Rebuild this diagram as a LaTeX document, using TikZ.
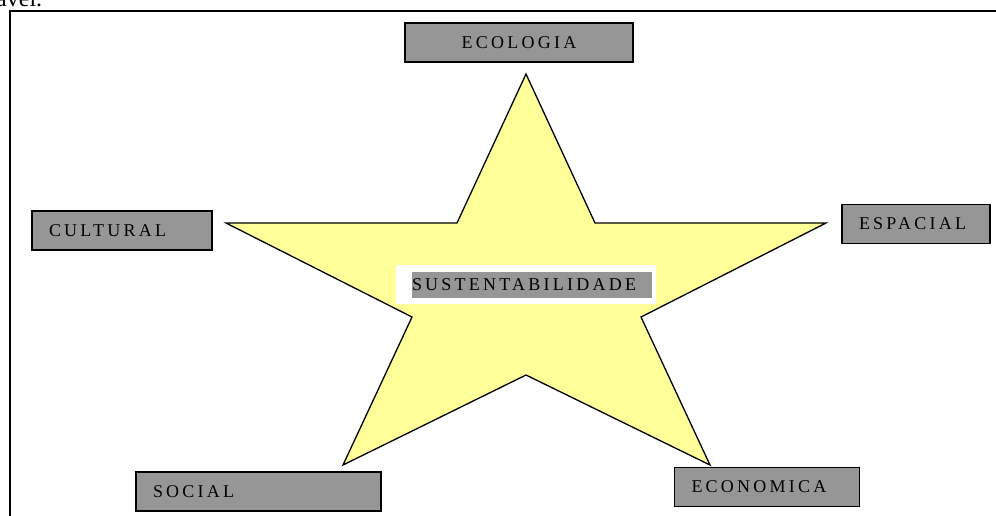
\documentclass[tikz,border=0pt]{standalone}
\usepackage{fontspec}
\setmainfont{Liberation Serif}
\newfontfamily\spaced[LetterSpace=18]{Liberation Serif}
\usetikzlibrary{positioning}
\definecolor{boxgray}{RGB}{150,150,150}
\definecolor{staryellow}{RGB}{255,255,153}
\tikzset{
  dim/.style={
      font=\spaced\fontsize{18}{21}\selectfont,
      text height=11.9pt,
      text depth=0pt
    },
  dimbox/.style={
      dim,
      rectangle,
      draw,
      line width=1.3pt,
      fill=boxgray,
      minimum height=39pt,
      inner ysep=0pt
    },
  leftbox/.style={
      dimbox,
      align=left,
      inner xsep=17pt,
      text width=#1
    },
  estrela/.style={
      draw,
      line width=1.3pt,
      fill=staryellow,
      line join=miter
    }
}

\begin{document}
\begin{tikzpicture}[x=1pt, y=-1pt]
  \clip (0,0) rectangle (996,515);
  % frame of the page
  \draw[line width=2pt] (10,530) -- (10,11) -- (1010,11);
  \node[anchor=base west, font=\fontsize{24}{28}\selectfont, inner sep=0pt] (frag) at (-4,6) {ável.};
  % star
  \draw[estrela] (526,74) -- (595,223) -- (826,223) -- (641,317) -- (710,465)
    -- (526,375) -- (343,465) -- (412,317) -- (226,223) -- (457,223) -- cycle;
  % dimensions
  \node[dimbox, minimum width=228pt] (ecol) at (519,42.5) {ECOLOGIA};
  \node[leftbox=146pt] (cult) at (122,230.5) {CULTURAL};
  \node[leftbox=114pt] (espa) at (916,224) {ESPACIAL};
  \node[leftbox=211pt] (soci) at (258.5,491.5) {SOCIAL};
  \node[leftbox=151pt] (econ) at (767,487) {ECONOMICA};
  % centre
  \node[fill=white, minimum width=260pt, minimum height=39pt] (sustbg) at (526,284.5) {};
  \node[dim, fill=boxgray, minimum width=240pt, minimum height=26pt, inner sep=0pt,
        text width=240pt, align=left] (sust) at (532,285) {SUSTENTABILIDADE};
\end{tikzpicture}
\end{document}
